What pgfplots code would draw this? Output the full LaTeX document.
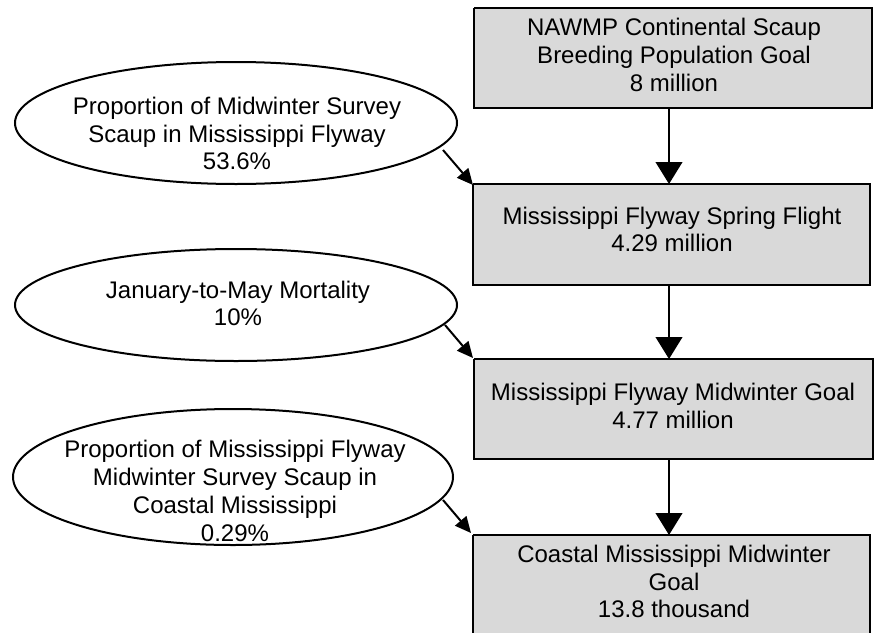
\documentclass[border=0pt]{standalone}
\usepackage{pgfplots}
\pgfplotsset{compat=1.18}
\usepackage{fontspec}
\setmainfont{Liberation Sans}
\usetikzlibrary{arrows.meta}
\tikzset{lbl/.style={font=\fontsize{18pt}{20.8pt}\selectfont,align=center,inner sep=0pt}}
\begin{document}
\begin{tikzpicture}
\begin{axis}[width=657.75pt,height=474pt,scale only axis,
  xmin=0,xmax=877,ymin=0,ymax=632,y dir=reverse,hide axis,clip=true]
% boxes
\addplot[fill=gray!30,draw=black,line width=1.5pt,mark=none] coordinates {(474,8) (872,8) (872,108) (474,108) (474,8)};
\addplot[fill=gray!30,draw=black,line width=1.5pt,mark=none] coordinates {(473,184) (870,184) (870,285) (473,285) (473,184)};
\addplot[fill=gray!30,draw=black,line width=1.5pt,mark=none] coordinates {(474,359) (873,359) (873,459) (474,459) (474,359)};
\addplot[fill=gray!30,draw=black,line width=1.5pt,mark=none] coordinates {(473,535) (870,535) (870,640) (473,640) (473,535)};
% ellipses
\draw[line width=1.5pt,fill=white] (axis cs:236,123) ellipse [x radius=221, y radius=61];
\draw[line width=1.5pt,fill=white] (axis cs:236,305) ellipse [x radius=221, y radius=56];
\draw[line width=1.5pt,fill=white] (axis cs:233,477) ellipse [x radius=220, y radius=68];
% vertical arrows
\draw[line width=1.5pt,-{Triangle[length=16.5pt,width=20pt]}] (axis cs:669,108) -- (axis cs:669,184);
\draw[line width=1.5pt,-{Triangle[length=16.5pt,width=20pt]}] (axis cs:669,285) -- (axis cs:669,359);
\draw[line width=1.5pt,-{Triangle[length=16.5pt,width=20pt]}] (axis cs:669,459) -- (axis cs:669,535);
% diagonal arrows
\draw[line width=1.5pt,-{Triangle[length=12pt,width=11pt]}] (axis cs:443,150) -- (axis cs:473,185);
\draw[line width=1.5pt,-{Triangle[length=12pt,width=11pt]}] (axis cs:445,325) -- (axis cs:473,358);
\draw[line width=1.5pt,-{Triangle[length=12pt,width=11pt]}] (axis cs:443,500) -- (axis cs:471,533);
% texts
\node[lbl] at (axis cs:674,55) {NAWMP Continental Scaup\\Breeding Population Goal\\8 million};
\node[lbl] at (axis cs:672,229.5) {Mississippi Flyway Spring Flight\\4.29 million};
\node[lbl] at (axis cs:673,406) {Mississippi Flyway Midwinter Goal\\4.77 million};
\node[lbl] at (axis cs:674,581.5) {Coastal Mississippi Midwinter\\Goal\\13.8 thousand};
\node[lbl] at (axis cs:237,133.5) {Proportion of Midwinter Survey\\Scaup in Mississippi Flyway\\53.6\%};
\node[lbl] at (axis cs:238,303.5) {January-to-May Mortality\\10\%};
\node[lbl] at (axis cs:235,491) {Proportion of Mississippi Flyway\\Midwinter Survey Scaup in\\Coastal Mississippi\\0.29\%};
\end{axis}
\pgfresetboundingbox
\useasboundingbox (current axis.south west) rectangle (current axis.north east);
\end{tikzpicture}
\end{document}
